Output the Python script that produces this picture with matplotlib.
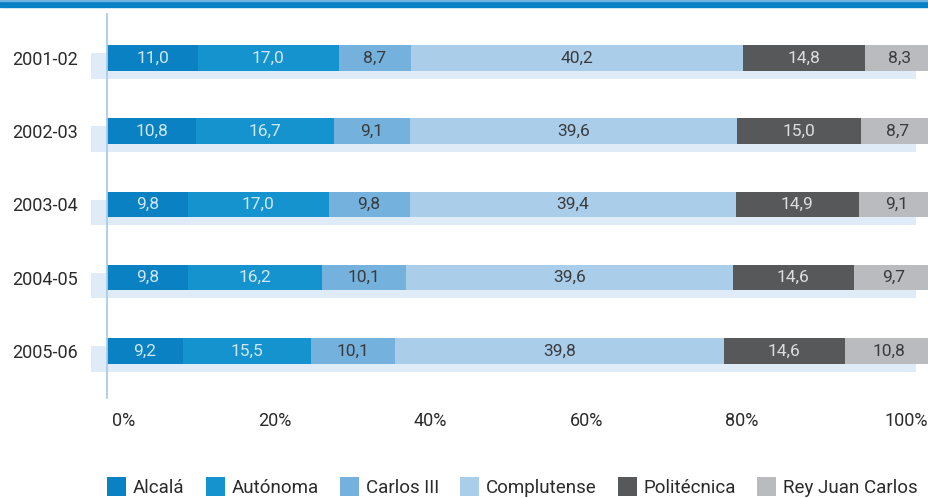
import matplotlib
matplotlib.use("Agg")
import matplotlib.pyplot as plt
from matplotlib.patches import Patch, Rectangle
import numpy as np

plt.rcParams['font.family'] = ['Roboto', 'DejaVu Sans']
plt.rcParams['font.weight'] = 'normal'

years = ["2001-02", "2002-03", "2003-04", "2004-05", "2005-06"]
universities = ["Alcalá", "Autónoma", "Carlos III", "Complutense", "Politécnica", "Rey Juan Carlos"]
alcala      = [11.0, 10.8, 9.8, 9.8, 9.2]
autonoma    = [17.0, 16.7, 17.0, 16.2, 15.5]
carlos3     = [8.7, 9.1, 9.8, 10.1, 10.1]
complutense = [40.2, 39.6, 39.4, 39.6, 39.8]
politecnica = [14.8, 15.0, 14.9, 14.6, 14.6]
reyjuan     = [8.3, 8.7, 9.1, 9.7, 10.8]
tick_labels = ["0%", "20%", "40%", "60%", "80%", "100%"]

series = [alcala, autonoma, carlos3, complutense, politecnica, reyjuan]
colors = ["#0a81c3", "#1593cf", "#74b1dd", "#aacde9", "#57585a", "#babbbe"]
text_colors = ["#cfe7f7", "#cfe7f7", "#3a3b3d", "#3a3b3d", "#dedede", "#3a3b3d"]
shadow_color = "#dfebf6"

W, H = 929, 498
fig = plt.figure(figsize=(W / 100, H / 100), dpi=100)

# layout in pixels
px_per_pct = 8.27
ax_left_px, ax_top_px, ax_bot_px = 107, 14, 398
row0_px, row_step_px = 58, 73.25

ax = fig.add_axes([ax_left_px / W, 1 - ax_bot_px / H, 1 - ax_left_px / W, (ax_bot_px - ax_top_px) / H])
ax.set_xlim(0, (W - ax_left_px) / px_per_pct)
ax.set_ylim((ax_bot_px - row0_px) / row_step_px, (ax_top_px - row0_px) / row_step_px)

y = np.arange(len(years))
bar_h = 25.5 / row_step_px
shadow_off = 8 / row_step_px

# background shadow bars
ax.barh(y + shadow_off, 99.8, left=-1.95, height=bar_h, color=shadow_color,
        clip_on=False, zorder=1)

left = np.zeros(len(years))
for vals, c, tc in zip(series, colors, text_colors):
    vals = np.array(vals)
    ax.barh(y, vals, left=left, height=bar_h, color=c, zorder=2)
    for i, v in enumerate(vals):
        ax.text(left[i] + v / 2, y[i], f"{v:.1f}".replace(".", ","), ha="center", va="center",
                color=tc, fontsize=12.5, zorder=3)
    left += vals

for s in ["top", "right", "bottom"]:
    ax.spines[s].set_visible(False)
ax.spines["left"].set_color("#a9cbe8")
ax.spines["left"].set_linewidth(1.3)
ax.spines["left"].set_zorder(4)

ax.set_yticks(y)
ax.set_yticklabels(years, fontsize=13, color="#2b2b2b")
ax.tick_params(axis="y", length=0, pad=21)

tick_centers_px = [124, 275, 430, 587, 742, 906]
ax.set_xticks([(p - ax_left_px) / px_per_pct for p in tick_centers_px])
ax.set_xticklabels(tick_labels, fontsize=13, color="#2b2b2b")
ax.tick_params(axis="x", length=0, pad=10)

# top rule
fig.patches.append(Rectangle((0, 1 - 7 / H), 1, 6 / H, transform=fig.transFigure,
                             color="#0a80c4", zorder=10))
fig.patches.append(Rectangle((0, 1 - 1 / H), 1, 1 / H, transform=fig.transFigure,
                             color="#6fb2df", zorder=10))

handles = [Patch(facecolor=c, edgecolor="none") for c in colors]
lfs = 13.5
fs = lfs * 100 / 72
fig.legend(handles, universities, loc="center left", bbox_to_anchor=(107 / W, 1 - 487 / H),
           ncol=6, frameon=False, fontsize=lfs, handlelength=19 / fs, handleheight=21 / fs,
           handletextpad=7 / fs, columnspacing=21 / fs, borderpad=0, borderaxespad=0,
           labelcolor="#2b2b2b")

fig.savefig("out.png", dpi=100)
